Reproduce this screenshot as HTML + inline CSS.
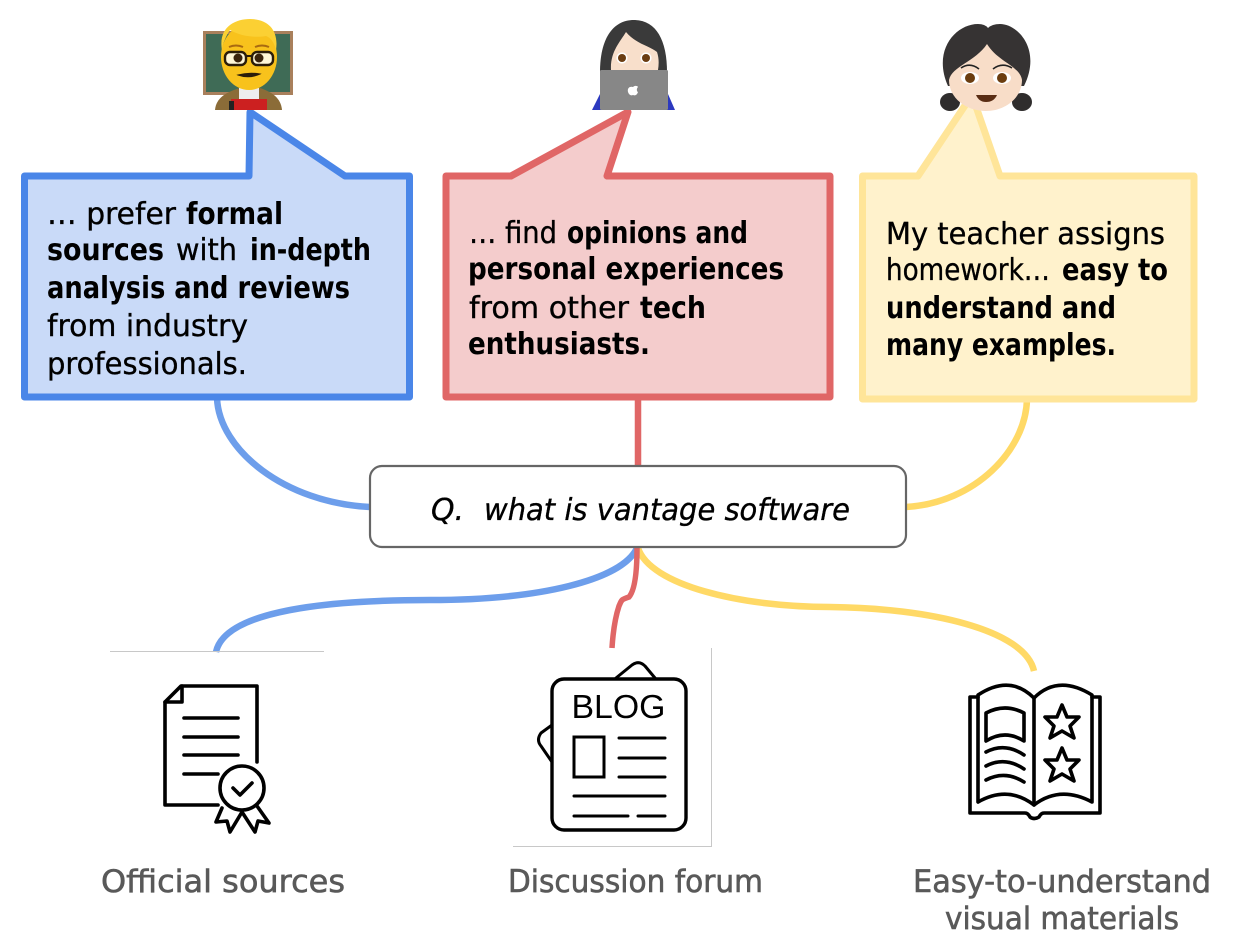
<!DOCTYPE html>
<html>
<head>
<meta charset="utf-8">
<style>
html,body{margin:0;padding:0;background:#fff;width:1237px;height:951px;overflow:hidden}
svg{display:block}
text{font-family:"DejaVu Sans","Liberation Sans",sans-serif}
.t{font-size:30px;fill:#000;stroke:#000;stroke-width:.35}
.b{font-weight:bold;font-size:30px;stroke-width:0}
.g{font-size:31px;fill:#595959;stroke:#595959;stroke-width:.6}
.i{stroke:#000;stroke-width:3.6;fill:none;stroke-linecap:round;stroke-linejoin:round}
.j{stroke:#000;stroke-width:3;fill:none;stroke-linecap:round;stroke-linejoin:round}
</style>
</head>
<body>
<svg width="1237" height="951" viewBox="0 0 1237 951" xmlns="http://www.w3.org/2000/svg">
<rect width="1237" height="951" fill="#fff"/>

<!-- connectors -->
<g fill="none" stroke-width="6.5">
<path d="M217 398C219 450 285 503 370 507" stroke="#6d9eeb"/>
<path d="M638 398V466" stroke="#e06666"/>
<path d="M1027 399C1026 450 975 503 906 507" stroke="#ffd966"/>
<path d="M637 548C622 580 540 600 430 600C330 600 225 610 216 652" stroke="#6d9eeb"/>
<path d="M1034 671C1025 630 930 608 830 607C740 607 650 585 638 548" stroke="#ffd966"/>
<path d="M637 548C637 570 635 590 629 597C620 600 622 600 619 606C615 618 613 632 612 648" stroke="#e06666" stroke-width="5.5"/>
</g>

<!-- speech boxes -->
<path d="M24.5 176H249L250 112L345 176H409.5V397H24.5Z" fill="#c9daf8" stroke="#4a86e8" stroke-width="7" stroke-linejoin="round"/>
<path d="M446 176H511L628 112L607 176H830V397H446Z" fill="#f4cccc" stroke="#e06666" stroke-width="7" stroke-linejoin="round"/>
<path d="M862.5 176H918L972 95L1000 176H1194V399H862.5Z" fill="#fff2cc" stroke="#ffe599" stroke-width="7" stroke-linejoin="round"/>

<!-- blue text -->
<text class="t" x="47" y="224" textLength="129" lengthAdjust="spacingAndGlyphs">… prefer</text>
<text class="t b" x="186" y="224" textLength="97" lengthAdjust="spacingAndGlyphs">formal</text>
<text class="t b" x="47" y="260" textLength="117" lengthAdjust="spacingAndGlyphs">sources</text>
<text class="t" x="176" y="260" textLength="61" lengthAdjust="spacingAndGlyphs">with</text>
<text class="t b" x="250" y="260" textLength="121" lengthAdjust="spacingAndGlyphs">in-depth</text>
<text class="t b" x="47" y="298" textLength="303" lengthAdjust="spacingAndGlyphs">analysis and reviews</text>
<text class="t" x="47" y="336" textLength="201" lengthAdjust="spacingAndGlyphs">from industry</text>
<text class="t" x="47" y="374" textLength="200" lengthAdjust="spacingAndGlyphs">professionals.</text>

<!-- red text -->
<text class="t" x="469" y="243" textLength="88" lengthAdjust="spacingAndGlyphs">… find</text>
<text class="t b" x="567" y="243" textLength="181" lengthAdjust="spacingAndGlyphs">opinions and</text>
<text class="t b" x="468" y="279" textLength="316" lengthAdjust="spacingAndGlyphs">personal experiences</text>
<text class="t" x="469" y="318" textLength="160" lengthAdjust="spacingAndGlyphs">from other</text>
<text class="t b" x="640" y="318" textLength="66" lengthAdjust="spacingAndGlyphs">tech</text>
<text class="t b" x="468" y="354" textLength="182" lengthAdjust="spacingAndGlyphs">enthusiasts.</text>

<!-- yellow text -->
<text class="t" x="886" y="244" textLength="279" lengthAdjust="spacingAndGlyphs">My teacher assigns</text>
<text class="t" x="886" y="280" textLength="164" lengthAdjust="spacingAndGlyphs">homework…</text>
<text class="t b" x="1062" y="280" textLength="106" lengthAdjust="spacingAndGlyphs">easy to</text>
<text class="t b" x="886" y="318" textLength="230" lengthAdjust="spacingAndGlyphs">understand and</text>
<text class="t b" x="886" y="355" textLength="230" lengthAdjust="spacingAndGlyphs">many examples.</text>

<!-- question box -->
<rect x="370" y="466" width="536" height="81" rx="12" fill="#fff" stroke="#666" stroke-width="2.2"/>
<text class="t" x="431" y="520" font-style="italic" textLength="33" lengthAdjust="spacingAndGlyphs">Q.</text>
<text class="t" x="484" y="520" font-style="italic" textLength="366" lengthAdjust="spacingAndGlyphs">what is vantage software</text>

<!-- image frames -->
<path d="M110 651.5H324" stroke="#c8c8c8" stroke-width="1"/>
<path d="M711.5 648V846.5H513" stroke="#c8c8c8" stroke-width="1" fill="none"/>

<!-- certificate icon -->
<g class="i">
<path d="M218 805H165V702L181 686H257V762"/>
<path d="M165 702H182V686"/>
<path d="M184 718H238M184 737H238M184 755H238M184 774H218"/>
<circle cx="242" cy="788" r="22"/>
<path d="M233 788L240 795L252 783"/>
<path d="M222 808L216 822L227 821L230 832L242 812L255 832L258 821L269 823L257 806"/>
</g>

<!-- blog icon -->
<g class="j">
<rect x="552" y="679" width="134" height="151" rx="12" stroke-width="3.4"/>
<path d="M616 678L632 665Q639 660 645 666L655 678"/>
<path d="M552 725L541 733Q536 740 541 746L552 762"/>
<rect x="574" y="737" width="30" height="40" stroke-linejoin="miter"/>
<path d="M619 738H665M619 758H665M619 777H665M574 796H665M574 816H628M638 816H665"/>
</g>
<text x="571.5" y="718" textLength="94" lengthAdjust="spacingAndGlyphs" style="font-family:'Liberation Sans',sans-serif;font-size:33px" fill="#000">BLOG</text>

<!-- book icon -->
<g class="i">
<path d="M978 697H970V813H1025Q1028 813 1030 817Q1034 820 1039 817Q1041 813 1044 813H1100V697H1092"/>
<path d="M978 695Q1010 674 1034 698Q1058 674 1092 695V802Q1060 785 1034 805Q1008 785 978 802Z"/>
<path d="M1034 698V805"/>
<path d="M986 713Q1005 703 1024 713V741Q1005 729 986 741Z"/>
<path d="M986 752Q1005 742 1024 755M986 766Q1005 756 1024 769M986 780Q1005 770 1024 782"/>
<path d="M1062 705L1067 717L1079 717L1070 726L1074 738L1062 731L1050 738L1054 726L1045 717L1057 717Z"/>
<path d="M1062 748L1067 760L1079 760L1070 769L1074 781L1062 774L1050 781L1054 769L1045 760L1057 760Z"/>
</g>

<!-- labels -->
<text class="g" x="101" y="892" textLength="244" lengthAdjust="spacingAndGlyphs">Official sources</text>
<text class="g" x="508" y="892" textLength="255" lengthAdjust="spacingAndGlyphs">Discussion forum</text>
<text class="g" x="913" y="892" textLength="298" lengthAdjust="spacingAndGlyphs">Easy-to-understand</text>
<text class="g" x="945" y="929" textLength="234" lengthAdjust="spacingAndGlyphs">visual materials</text>

<!-- teacher emoji -->
<g>
<rect x="203" y="31" width="90" height="64" fill="#a9805c"/>
<rect x="206" y="34" width="84" height="58" fill="#3f6b56"/>
<path d="M215 110C216 98 226 92 240 88H260C272 92 281 98 282 110Z" fill="#8b6c38"/>
<rect x="239" y="88" width="20" height="11" fill="#eee"/>
<rect x="231" y="99" width="36" height="11" fill="#cc2020"/>
<rect x="229" y="101" width="5" height="9" fill="#222"/>
<ellipse cx="249" cy="57" rx="28" ry="33" fill="#f8c21c"/>
<path d="M222 50C218 28 234 19 250 19C268 19 279 30 276 50C274 42 271 38 266 36C254 38 240 36 230 30C226 36 223 43 222 50Z" fill="#fbd033"/>
<path d="M229 47Q236 44 243 47M255 47Q262 44 269 47" fill="none" stroke="#a96a10" stroke-width="2"/>
<g fill="#fff7d8" stroke="#2b1d0a" stroke-width="2.4"><rect x="225" y="52" width="21" height="13" rx="5"/><rect x="252" y="52" width="21" height="13" rx="5"/></g>
<path d="M246 56H252" stroke="#2b1d0a" stroke-width="2"/>
<circle cx="238" cy="58" r="4.5" fill="#3a240e"/><circle cx="259" cy="58" r="4.5" fill="#3a240e"/>
<path d="M238 75Q249 79 260 74Q249 72 238 75Z" fill="#2b1d0a" stroke="#2b1d0a"/>
</g>

<!-- laptop woman emoji -->
<g>
<path d="M592 110L600 94H668L675 110Z" fill="#2c39bf"/>
<path d="M600 72C600 40 612 20 634 20C656 20 667 40 667 72Z" fill="#3a3a3a"/>
<path d="M611 70C610 52 620 42 626 32C636 44 650 46 657 52C659 58 659 64 658 70Z" fill="#f8dfcb"/>
<circle cx="622" cy="58" r="5.5" fill="#fff"/><circle cx="646" cy="58" r="5.5" fill="#fff"/>
<circle cx="622" cy="58" r="4" fill="#6b3d12"/><circle cx="646" cy="58" r="4" fill="#6b3d12"/>
<rect x="600" y="70" width="68" height="40" rx="1.5" fill="#878787"/>
<path d="M633 87C635 85 638 86 638 87C636 89 637 92 638 92C637 95 635 96 633 95C631 96 629 95 628 92C627 88 630 86 633 87Z" fill="#fff"/>
</g>

<!-- girl emoji -->
<g>
<ellipse cx="950" cy="102" rx="10" ry="9" fill="#2f2d2d"/>
<ellipse cx="1022" cy="102" rx="10" ry="9" fill="#2f2d2d"/>
<path d="M948 86C932 50 956 24 978 24Q985 24 988 28Q992 24 1000 24C1018 24 1042 50 1024 86Z" fill="#363333"/>
<path d="M949 80C952 66 975 62 987 44C998 62 1020 66 1022 80C1022 98 1005 111 986 111C966 111 949 98 949 80Z" fill="#f8ddc8"/>
<ellipse cx="970" cy="78" rx="9" ry="6" fill="#fff"/><ellipse cx="1002" cy="78" rx="9" ry="6" fill="#fff"/>
<circle cx="970" cy="78" r="5" fill="#6b3d0f"/><circle cx="1002" cy="78" r="5" fill="#6b3d0f"/>
<path d="M961 68Q970 62 979 69M993 69Q1002 62 1012 68" fill="none" stroke="#222" stroke-width="1.6"/>
<path d="M976 95H997Q994 102 986 102Q979 102 976 95Z" fill="#5a2d14"/>
</g>
</svg>
</body>
</html>
